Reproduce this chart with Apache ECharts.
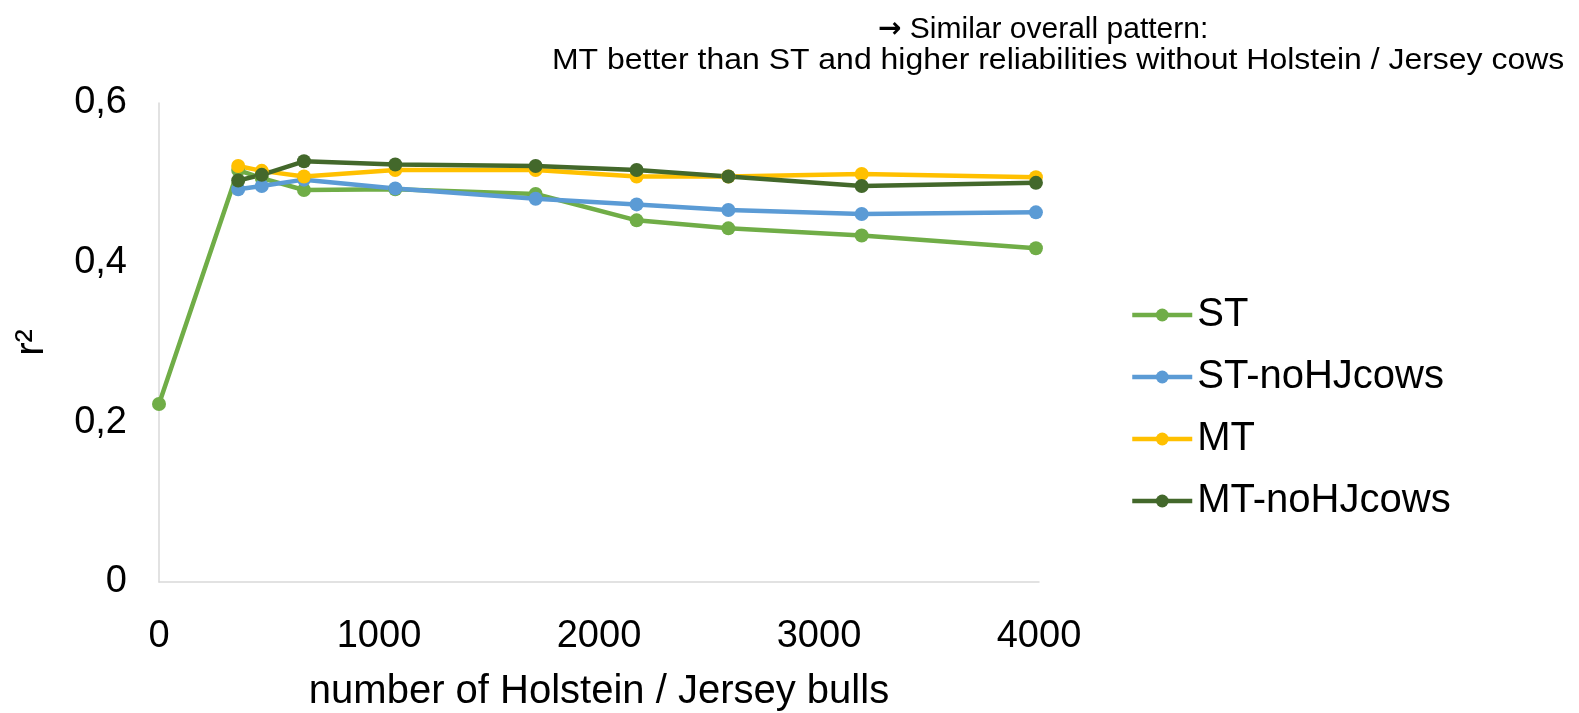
<!DOCTYPE html>
<html>
<head>
<meta charset="utf-8">
<script src="https://cdn.jsdelivr.net/npm/echarts@6/dist/echarts.min.js"></script>
<style>
  html, body { margin: 0; padding: 0; background: #fff; }
  #main { width: 1579px; height: 713px; }
</style>
</head>
<body>
<div id="main"></div>
<script>
// number of Holstein / Jersey bulls
var bulls = [0, 360, 467, 659, 1074, 1712, 2171, 2588, 3194, 3986];
var seriesNames = ['ST', 'ST-noHJcows', 'MT', 'MT-noHJcows'];
var stVals    = [0.223, 0.516, 0.506, 0.491, 0.492, 0.486, 0.453, 0.443, 0.434, 0.418];
var stNoHJ    = [null, 0.492, 0.496, 0.504, 0.493, 0.480, 0.473, 0.466, 0.461, 0.463];
var mtVals    = [null, 0.521, 0.515, 0.508, 0.516, 0.516, 0.508, 0.508, 0.511, 0.507];
var mtNoHJ    = [null, 0.503, 0.510, 0.527, 0.523, 0.521, 0.516, 0.508, 0.496, 0.500];
var colors = ['#70AD47', '#5B9BD5', '#FFC000', '#43682B'];
var yTicks = [0, 0.2, 0.4, 0.6];

function pairs(vals) {
    var out = [];
    for (var i = 0; i < bulls.length; i++) {
        if (vals[i] !== null) out.push([bulls[i], vals[i]]);
    }
    return out;
}

var myChart = echarts.init(document.getElementById('main'));
var font = '"Liberation Sans", Arial, sans-serif';
var titleFont = '30px "Liberation Sans", Arial, sans-serif';

var option = {
    animation: false,
    color: colors,
    textStyle: { fontFamily: font },
    grid: { left: 159, right: 540, top: 103, bottom: 131, outerBoundsMode: 'none' },
    graphic: [
        {
            type: 'text', left: 878, top: 15,
            style: {
                text: '{arr|\u2192} {t|Similar overall pattern:}',
                font: titleFont, fill: '#000',
                rich: {
                    arr: { fontFamily: '"DejaVu Sans", sans-serif', fontSize: 28, fontWeight: 'bold', fill: '#000' },
                    t: { fontFamily: font, fontSize: 30, fill: '#000' }
                }
            }
        },
        {
            type: 'text', x: 552, y: 46, scaleX: 1.065,
            style: { text: 'MT better than ST and higher reliabilities without Holstein / Jersey cows', font: titleFont, fill: '#000' }
        }
    ],
    legend: {
        orient: 'vertical',
        left: 1125,
        top: 290,
        itemWidth: 60,
        itemHeight: 16,
        itemGap: 22,
        lineStyle: { width: 4.5 },
        textStyle: { fontSize: 40, color: '#000', fontFamily: font, padding: [0, 0, 0, 0] },
        data: seriesNames
    },
    xAxis: {
        type: 'value',
        min: 0, max: 4000, interval: 1000,
        name: 'number of Holstein / Jersey bulls',
        nameLocation: 'middle',
        nameGap: 90,
        nameTextStyle: { fontSize: 40, color: '#000' },
        axisLine: { lineStyle: { color: '#D9D9D9', width: 1.5 } },
        axisTick: { show: false },
        splitLine: { show: false },
        axisLabel: {
            fontSize: 38, color: '#000', margin: 36,
            formatter: function (v) { return String(Math.round(v)); }
        }
    },
    yAxis: {
        type: 'value',
        min: 0, max: 0.6, interval: 0.2,
        name: 'r\u00B2',
        nameLocation: 'middle',
        nameGap: 107,
        nameRotate: 90,
        nameTextStyle: { fontSize: 40, color: '#000' },
        axisLine: { show: true, lineStyle: { color: '#D9D9D9', width: 1.5 } },
        axisTick: { show: false },
        splitLine: { show: false },
        axisLabel: {
            fontSize: 38, color: '#000', margin: 32,
            formatter: function (v) {
                var t = yTicks.reduce(function (a, b) { return Math.abs(b - v) < Math.abs(a - v) ? b : a; });
                return t === 0 ? '0' : t.toFixed(1).replace('.', ',');
            }
        }
    },
    series: [stVals, stNoHJ, mtVals, mtNoHJ].map(function (vals, i) {
        return {
            name: seriesNames[i],
            type: 'line',
            data: pairs(vals),
            symbol: 'circle',
            symbolSize: 14,
            lineStyle: { width: 4.5, color: colors[i] },
            itemStyle: { color: colors[i] }
        };
    })
};

myChart.setOption(option);
</script>
</body>
</html>
